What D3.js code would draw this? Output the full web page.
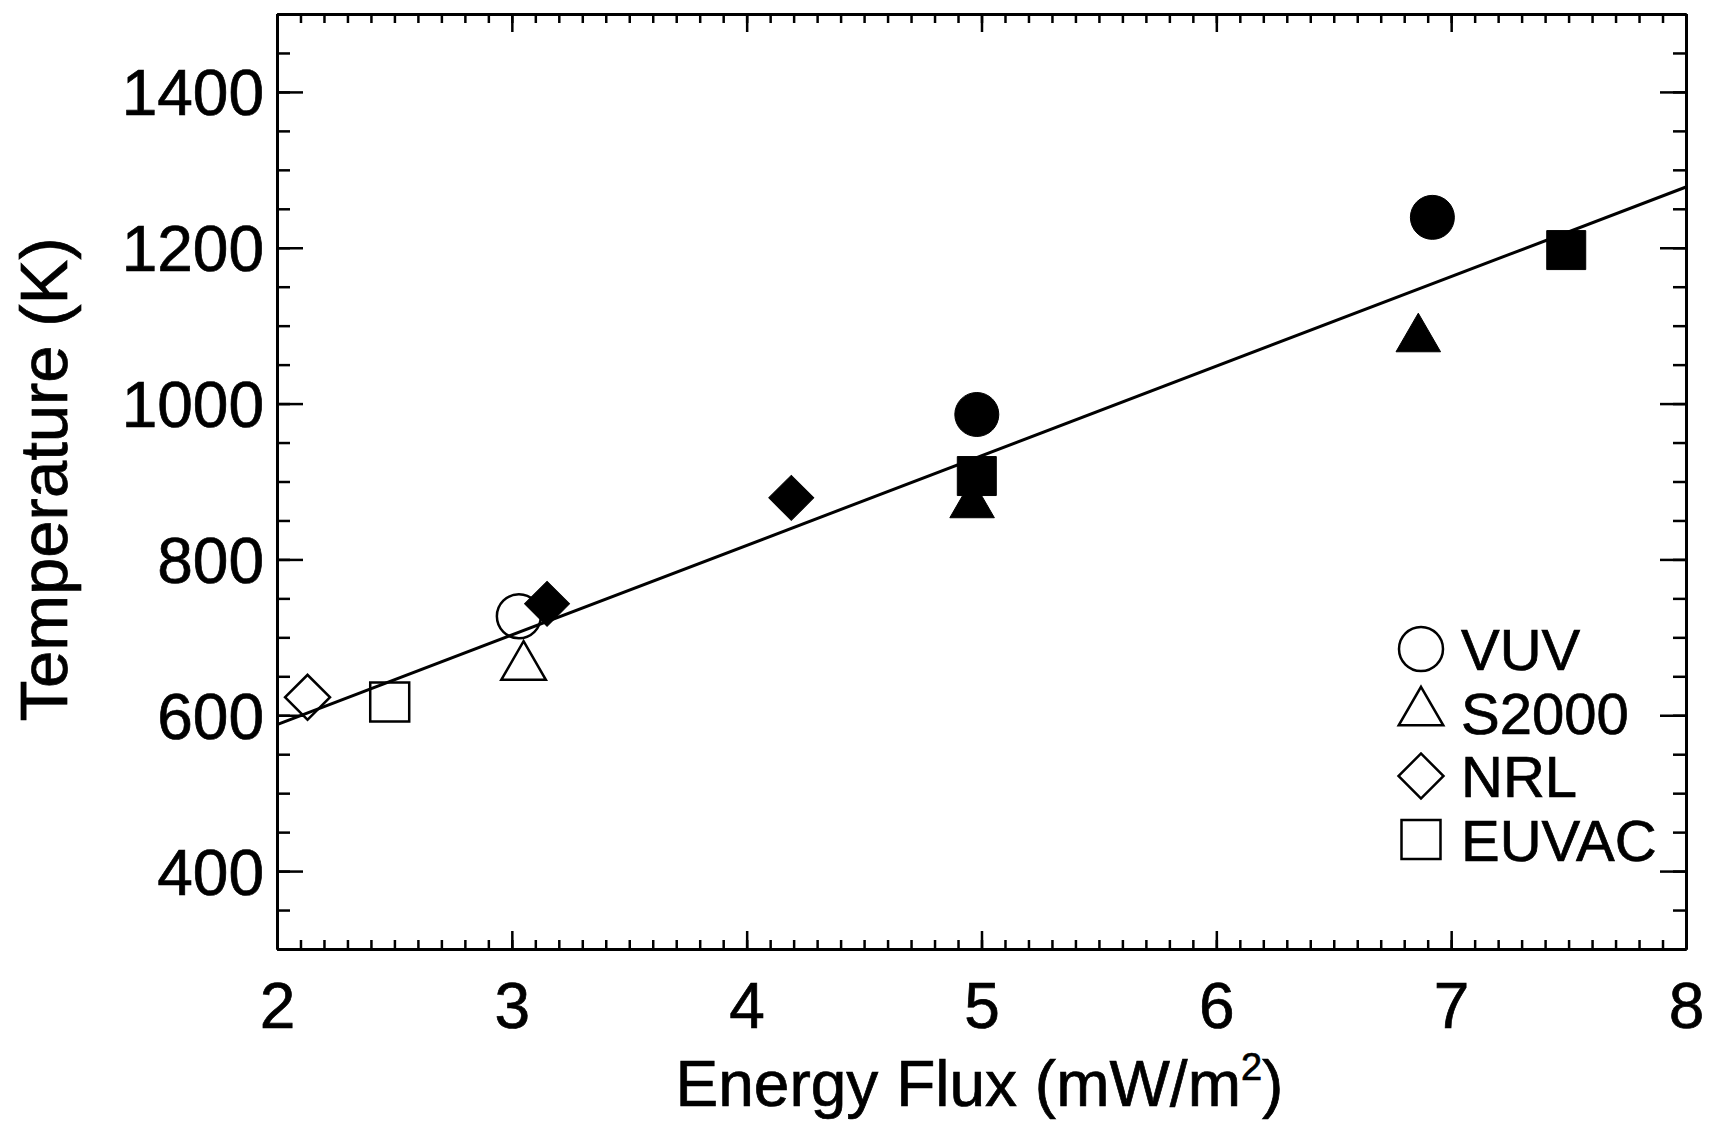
<!DOCTYPE html>
<html>
<head>
<meta charset="utf-8">
<script src="https://cdn.jsdelivr.net/npm/d3@7.9.0/dist/d3.min.js"></script>
<style>
  html, body { margin: 0; padding: 0; background: #fff; }
  svg text { font-family: "Liberation Sans", Arial, Helvetica, sans-serif; fill: #000; stroke: #000; stroke-width: 0.7px; }
</style>
</head>
<body>
<svg id="chart" width="1717" height="1125"></svg>
<script>
// Axis ticks
const xTicks = [2, 3, 4, 5, 6, 7, 8];
const yTicks = [400, 600, 800, 1000, 1200, 1400];

// Series names (legend order)
const seriesNames = ["VUV", "S2000", "NRL", "EUVAC"];

// Energy flux (mW/m2) and temperature (K) per series; first point of each is hollow
const vuvFlux = [3.03, 4.98, 6.92];
const vuvTemp = [727, 986, 1239];
const vuvFilled = [false, true, true];

const s2000Flux = [3.05, 4.96, 6.86];
const s2000Temp = [662, 870, 1083];
const s2000Filled = [false, true, true];

const nrlFlux = [2.13, 3.15, 4.19];
const nrlTemp = [623, 743, 879];
const nrlFilled = [false, true, true];

const euvacFlux = [2.48, 4.98, 7.49];
const euvacTemp = [617, 907, 1197];
const euvacFilled = [false, true, true];

// Linear fit line end points
const fitFlux = [2, 8];
const fitTemp = [588, 1278];

const svg = d3.select("#chart");
const plotLeft = 277, plotRight = 1686, plotTop = 14, plotBottom = 949;

const x = d3.scaleLinear().domain([2, 8]).range([plotLeft, plotRight]);
const y = d3.scaleLinear().domain([300, 1500]).range([plotBottom, plotTop]);

// symbol generators
const shapes = {
  VUV: d3.symbol().type(d3.symbolCircle).size(Math.PI * 22 * 22),
  S2000: d3.symbol().type(d3.symbolTriangle).size(860),
  NRL: d3.symbol().type(d3.symbolSquare).size(1010),
  EUVAC: d3.symbol().type(d3.symbolSquare).size(1520)
};
const rotation = { VUV: 0, S2000: 0, NRL: 45, EUVAC: 0 };

function styleAxis(g) {
  g.selectAll("path.domain").attr("stroke", "#000").attr("stroke-width", 3);
  g.selectAll(".tick line").attr("stroke", "#000").attr("stroke-width", 2.5);
}

// minor ticks first
const xMinor = d3.range(2, 8.0001, 0.1);
const yMinor = d3.range(300, 1501, 50);

svg.append("g").attr("transform", `translate(0,${plotBottom})`)
  .call(d3.axisBottom(x).tickValues(xMinor).tickSize(-9).tickSizeOuter(0).tickFormat(""))
  .call(styleAxis);
svg.append("g").attr("transform", `translate(0,${plotTop})`)
  .call(d3.axisTop(x).tickValues(xMinor).tickSize(-9).tickSizeOuter(0).tickFormat(""))
  .call(styleAxis);
svg.append("g").attr("transform", `translate(${plotLeft},0)`)
  .call(d3.axisLeft(y).tickValues(yMinor).tickSize(-13).tickSizeOuter(0).tickFormat(""))
  .call(styleAxis);
svg.append("g").attr("transform", `translate(${plotRight},0)`)
  .call(d3.axisRight(y).tickValues(yMinor).tickSize(-13).tickSizeOuter(0).tickFormat(""))
  .call(styleAxis);

// major ticks with labels
const gx = svg.append("g").attr("transform", `translate(0,${plotBottom})`)
  .call(d3.axisBottom(x).tickValues(xTicks).tickSize(-18).tickSizeOuter(0).tickPadding(34).tickFormat(d3.format("d")))
  .call(styleAxis);
svg.append("g").attr("transform", `translate(0,${plotTop})`)
  .call(d3.axisTop(x).tickValues(xTicks).tickSize(-18).tickSizeOuter(0).tickFormat(""))
  .call(styleAxis);
const gy = svg.append("g").attr("transform", `translate(${plotLeft},0)`)
  .call(d3.axisLeft(y).tickValues(yTicks).tickSize(-26).tickSizeOuter(0).tickPadding(13).tickFormat(d3.format("d")))
  .call(styleAxis);
svg.append("g").attr("transform", `translate(${plotRight},0)`)
  .call(d3.axisRight(y).tickValues(yTicks).tickSize(-26).tickSizeOuter(0).tickFormat(""))
  .call(styleAxis);

gx.selectAll("text").attr("font-size", 64).style("font-family", "'Liberation Sans', Arial, sans-serif");
gy.selectAll("text").attr("font-size", 64).attr("dy", "0.36em").style("font-family", "'Liberation Sans', Arial, sans-serif");

// axis titles
svg.append("text")
  .attr("transform", `translate(67,${(plotTop + plotBottom) / 2 - 2}) rotate(-90)`)
  .attr("text-anchor", "middle")
  .attr("font-size", 67)
  .text("Temperature (K)");

const xt = svg.append("text")
  .attr("x", (plotLeft + plotRight) / 2 - 2)
  .attr("y", 1106)
  .attr("text-anchor", "middle")
  .attr("font-size", 64);
xt.append("tspan").text("Energy Flux (mW/m");
xt.append("tspan").attr("font-size", 38).attr("dy", -26).text("2");
xt.append("tspan").attr("dy", 26).text(")");

// fit line
svg.append("path")
  .datum(fitFlux.map((f, i) => [f, fitTemp[i]]))
  .attr("d", d3.line().x(d => x(d[0])).y(d => y(d[1])))
  .attr("fill", "none")
  .attr("stroke", "#000")
  .attr("stroke-width", 3);

// points
const series = [
  { name: "VUV", flux: vuvFlux, temp: vuvTemp, filled: vuvFilled },
  { name: "S2000", flux: s2000Flux, temp: s2000Temp, filled: s2000Filled },
  { name: "NRL", flux: nrlFlux, temp: nrlTemp, filled: nrlFilled },
  { name: "EUVAC", flux: euvacFlux, temp: euvacTemp, filled: euvacFilled }
];

series.forEach(s => {
  const pts = s.flux.map((f, i) => ({ f, t: s.temp[i], filled: s.filled[i] }));
  svg.append("g").selectAll("path")
    .data(pts)
    .join("path")
    .attr("d", shapes[s.name]())
    .attr("transform", d => `translate(${x(d.f)},${y(d.t)}) rotate(${rotation[s.name]})`)
    .attr("fill", d => d.filled ? "#000" : "none")
    .attr("stroke", "#000")
    .attr("stroke-width", d => d.filled ? 1 : 2.5);
});

// legend
const legend = svg.append("g").attr("transform", "translate(1421,649)");
seriesNames.forEach((name, i) => {
  const row = legend.append("g").attr("transform", `translate(0,${i * 63.5})`);
  row.append("path")
    .attr("d", shapes[name]())
    .attr("transform", `rotate(${rotation[name]})`)
    .attr("fill", "none")
    .attr("stroke", "#000")
    .attr("stroke-width", 2.5);
  row.append("text")
    .attr("x", 40)
    .attr("y", 21)
    .attr("font-size", 58)
    .text(name);
});
</script>
</body>
</html>
